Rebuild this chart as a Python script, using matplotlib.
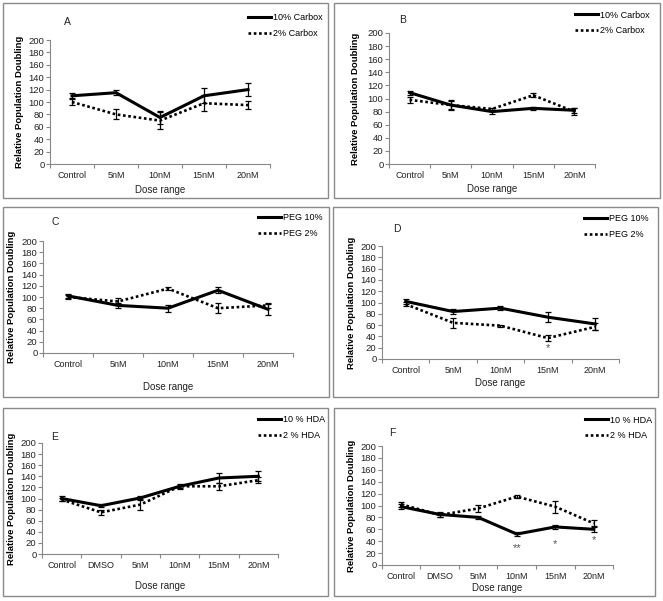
import numpy as np
import matplotlib
matplotlib.use("Agg")
import matplotlib.pyplot as plt
from matplotlib.patches import Rectangle
from matplotlib.lines import Line2D

plt.rcParams['font.family'] = ['Liberation Sans', 'DejaVu Sans']

# data
doses5 = ["Control", "5nM", "10nM", "15nM", "20nM"]
doses6 = ["Control", "DMSO", "5nM", "10nM", "15nM", "20nM"]

carbox10_a = [110, 115, 75, 110, 120]
carbox10_a_err = [4, 4, 10, 12, 10]
carbox2_a = [100, 80, 70, 98, 95]
carbox2_a_err = [5, 8, 14, 13, 7]

carbox10_b = [109, 90, 80, 85, 82]
carbox10_b_err = [3, 7, 3, 2, 4]
carbox2_b = [98, 90, 84, 105, 80]
carbox2_b_err = [5, 6, 2, 3, 5]

peg10_c = [102, 85, 80, 112, 78]
peg10_c_err = [4, 4, 6, 5, 10]
peg2_c = [100, 92, 115, 80, 85]
peg2_c_err = [4, 6, 3, 9, 5]

peg10_d = [102, 84, 90, 74, 62]
peg10_d_err = [4, 4, 3, 9, 10]
peg2_d = [97, 64, 59, 37, 57]
peg2_d_err = [4, 9, 2, 5, 6]

hda10_e = [100, 87, 101, 122, 137, 140]
hda10_e_err = [4, 3, 4, 3, 9, 9]
hda2_e = [98, 75, 89, 122, 122, 133]
hda2_e_err = [3, 5, 10, 4, 6, 5]

hda10_f = [98, 85, 80, 52, 64, 60]
hda10_f_err = [4, 4, 3, 4, 4, 4]
hda2_f = [102, 84, 95, 115, 98, 70]
hda2_f_err = [4, 3, 6, 3, 10, 5]

W, H = 663, 601
fig = plt.figure(figsize=(W / 100, H / 100), dpi=100)
narrow = ['Liberation Sans Narrow', 'Liberation Sans', 'DejaVu Sans']


def px_rect(x0, y0, x1, y1):
    return [x0 / W, 1 - y1 / H, (x1 - x0) / W, (y1 - y0) / H]


def panel(box, ax_px, letter, letter_px, cats, s10, e10, s2, e2, labels,
          leg_px, xlab_y, ylab_x, stars=()):
    # panel frame
    fig.add_artist(Rectangle((box[0] / W, 1 - box[3] / H),
                             (box[2] - box[0]) / W, (box[3] - box[1]) / H,
                             transform=fig.transFigure, fill=False,
                             edgecolor="#8a8a8a", linewidth=1.0))
    ax = fig.add_axes(px_rect(*ax_px))
    x = np.arange(len(cats))
    ax.errorbar(x, s10, yerr=e10, color="black", linewidth=2.2,
                elinewidth=0.9, capsize=2, capthick=0.9, label=labels[0])
    ax.errorbar(x, s2, yerr=e2, color="black", linewidth=1.9,
                linestyle=(0, (1, 1)), elinewidth=0.9, capsize=2,
                capthick=0.9, label=labels[1])
    for xi, yi, s in stars:
        ax.text(xi, yi, s, ha="center", va="center", fontsize=8,
                color="#555555")
    ax.set_xlim(-0.5, len(cats) - 0.5)
    ax.set_ylim(0, 200)
    ax.set_yticks(np.arange(0, 201, 20))
    ax.set_xticks(x)
    ax.set_xticklabels(cats)
    ax.set_xticks(np.arange(-0.5, len(cats), 1), minor=True)
    ax.tick_params(axis="x", which="major", length=0, pad=5,
                   labelsize=6.5, labelcolor="#222222")
    ax.tick_params(axis="x", which="minor", length=3, color="#888888",
                   width=0.8)
    ax.tick_params(axis="y", length=3, color="#888888", width=0.8,
                   labelsize=6.8, labelcolor="#222222", pad=1)
    for t in ax.get_yticklabels():
        t.set_fontfamily(narrow)
    for sp in ["top", "right"]:
        ax.spines[sp].set_visible(False)
    for sp in ["left", "bottom"]:
        ax.spines[sp].set_color("#888888")
        ax.spines[sp].set_linewidth(0.8)
    ax.set_ylabel("Relative Population Doubling", fontsize=6.8,
                  fontweight="bold", va="center")
    ax.yaxis.set_label_coords((ylab_x - ax_px[0]) / (ax_px[2] - ax_px[0]),
                              0.5)
    fig.text((ax_px[0] + ax_px[2]) / 2 / W, 1 - xlab_y / H, "Dose range",
             ha="center", va="center", fontsize=7, color="#222222")
    fig.text(letter_px[0] / W, 1 - letter_px[1] / H, letter, ha="center",
             va="center", fontsize=7.5, color="#222222")
    handles = [Line2D([], [], color="black", linewidth=2.2),
               Line2D([], [], color="black", linewidth=1.9,
                      linestyle=(0, (1, 1)))]
    ax.legend(handles, labels, loc="center left",
              bbox_to_anchor=(leg_px[0] / W, 1 - leg_px[1] / H),
              bbox_transform=fig.transFigure, frameon=False, fontsize=6.5,
              handlelength=2.6, handletextpad=0.2, labelspacing=0.75,
              borderpad=0, borderaxespad=0)
    return ax


panel((3, 3, 328, 198), (50, 40, 270, 164), "A", (67, 22), doses5,
      carbox10_a, carbox10_a_err, carbox2_a, carbox2_a_err,
      ["10% Carbox", "2% Carbox"], (248, 25.5), 190, 20)
panel((334, 3, 660, 198), (389, 33, 595, 164), "B", (403, 20), doses5,
      carbox10_b, carbox10_b_err, carbox2_b, carbox2_b_err,
      ["10% Carbox", "2% Carbox"], (575, 23), 189, 355)
panel((3, 207, 329, 397), (43, 241, 293, 353), "C", (55, 222), doses5,
      peg10_c, peg10_c_err, peg2_c, peg2_c_err,
      ["PEG 10%", "PEG 2%"], (258, 225.5), 387, 11)
panel((333, 207, 658, 397), (382, 246, 619, 359), "D", (397, 229), doses5,
      peg10_d, peg10_d_err, peg2_d, peg2_d_err,
      ["PEG 10%", "PEG 2%"], (584, 226.5), 383, 352,
      stars=[(3, 19, "*")])
panel((3, 408, 328, 596), (42, 443, 278, 554), "E", (55, 437), doses6,
      hda10_e, hda10_e_err, hda2_e, hda2_e_err,
      ["10 % HDA", "2 % HDA"], (258, 427.5), 586, 12)
panel((334, 408, 655, 596), (382, 446, 613, 565), "F", (392, 433), doses6,
      hda10_f, hda10_f_err, hda2_f, hda2_f_err,
      ["10 % HDA", "2 % HDA"], (585, 428), 588, 352,
      stars=[(3, 28, "**"), (4, 36, "*"), (5, 42, "*")])

fig.savefig("out.png", dpi=100)
